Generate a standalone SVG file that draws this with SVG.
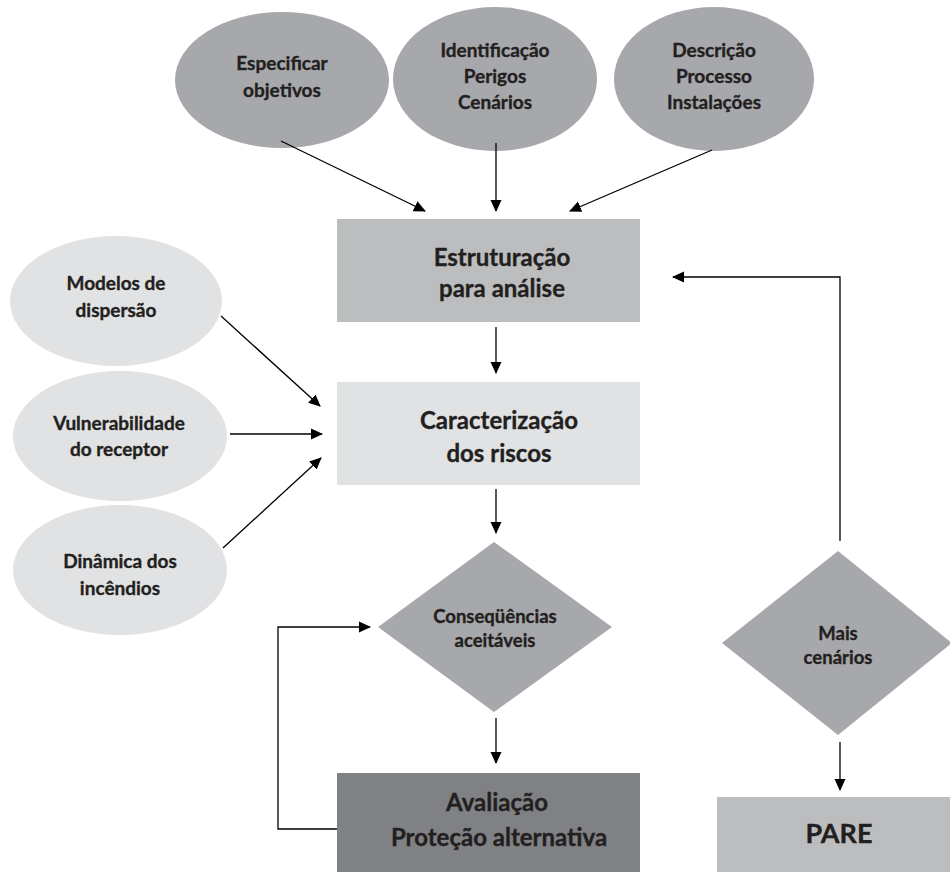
<svg xmlns="http://www.w3.org/2000/svg" width="950" height="877" viewBox="0 0 950 877">
<defs>
<style>
text{font-family:"Lato","Open Sans","Liberation Sans",sans-serif;font-weight:bold;fill:#231f20;stroke:#231f20;stroke-width:0.35;text-anchor:middle}
.s{font-size:19px}
.m{font-size:18.5px}
.l{font-size:24px}
.xl{font-size:27px}
.dark{fill:#a7a8ab}
.light{fill:#e1e2e3}
.mid{fill:#bcbdbf}
.deep{fill:#808184}
.c{fill:none;stroke:#000;stroke-width:1.3;marker-end:url(#ah)}
</style>
<marker id="ah" markerUnits="userSpaceOnUse" markerWidth="12" markerHeight="12" viewBox="0 0 12 12" refX="11" refY="6" orient="auto">
<path d="M0,0.5 L12,6 L0,11.5 Z" fill="#000"/>
</marker>
</defs>
<rect width="950" height="877" fill="#fff"/>

<g id="n-especificar"><ellipse class="dark" cx="282" cy="80" rx="107" ry="68"/>
<text class="s" x="282" y="70">Especificar</text><text class="s" x="282" y="97">objetivos</text></g>
<g id="n-identificacao"><ellipse class="dark" cx="495" cy="79" rx="102" ry="72"/>
<text class="s" x="495" y="57">Identificação</text><text class="s" x="495" y="83">Perigos</text><text class="s" x="495" y="109">Cenários</text></g>
<g id="n-descricao"><ellipse class="dark" cx="714" cy="79" rx="100" ry="72"/>
<text class="s" x="714" y="57">Descrição</text><text class="s" x="714" y="83">Processo</text><text class="s" x="714" y="109">Instalações</text></g>

<g id="n-modelos"><ellipse class="light" cx="116" cy="301" rx="106" ry="65"/>
<text class="s" x="116" y="290">Modelos de</text><text class="s" x="116" y="317">dispersão</text></g>
<g id="n-vulnerabilidade"><ellipse class="light" cx="120" cy="436" rx="107" ry="65"/>
<text class="s" x="119" y="430">Vulnerabilidade</text><text class="s" x="119" y="456">do receptor</text></g>
<g id="n-dinamica"><ellipse class="light" cx="120" cy="570" rx="107" ry="65"/>
<text class="s" x="120" y="568">Dinâmica dos</text><text class="s" x="120" y="595">incêndios</text></g>

<g id="n-estruturacao"><rect class="mid" x="337" y="219" width="303" height="103"/>
<text class="l" x="502" y="266">Estruturação</text><text class="l" x="502" y="297">para análise</text></g>
<g id="n-caracterizacao"><rect class="light" x="337" y="382" width="303" height="103"/>
<text class="l" x="499" y="429">Caracterização</text><text class="l" x="499" y="462">dos riscos</text></g>
<g id="n-consequencias"><polygon class="dark" points="494,542 612,627 494,712 378,627"/>
<text class="m" x="495" y="623">Conseqüências</text><text class="m" x="495" y="647">aceitáveis</text></g>
<g id="n-mais"><polygon class="dark" points="838,551 952,643 838,735 722,643"/>
<text class="m" x="838" y="640">Mais</text><text class="m" x="838" y="664">cenários</text></g>
<g id="n-avaliacao"><rect class="deep" x="337" y="773" width="303" height="99"/>
<text class="l" x="497" y="811">Avaliação</text><text class="l" x="499" y="846">Proteção alternativa</text></g>
<g id="n-pare"><rect class="mid" x="717" y="797" width="233" height="75"/>
<text class="xl" x="839" y="843">PARE</text></g>

<g id="connectors">
<line class="c" x1="281" y1="141" x2="425" y2="211"/>
<line class="c" x1="496" y1="143" x2="496" y2="211"/>
<line class="c" x1="712" y1="150" x2="570" y2="211"/>
<line class="c" x1="496" y1="327" x2="496" y2="373"/>
<line class="c" x1="221" y1="316" x2="320" y2="406"/>
<line class="c" x1="230" y1="434" x2="322" y2="434"/>
<line class="c" x1="223" y1="548" x2="321" y2="458"/>
<line class="c" x1="496" y1="489" x2="496" y2="533"/>
<line class="c" x1="496" y1="718" x2="496" y2="763"/>
<polyline class="c" points="337,829 278,829 278,627 370,627"/>
<polyline class="c" points="840,541 840,277 673,277"/>
<line class="c" x1="840" y1="742" x2="840" y2="790"/>
</g>
</svg>
